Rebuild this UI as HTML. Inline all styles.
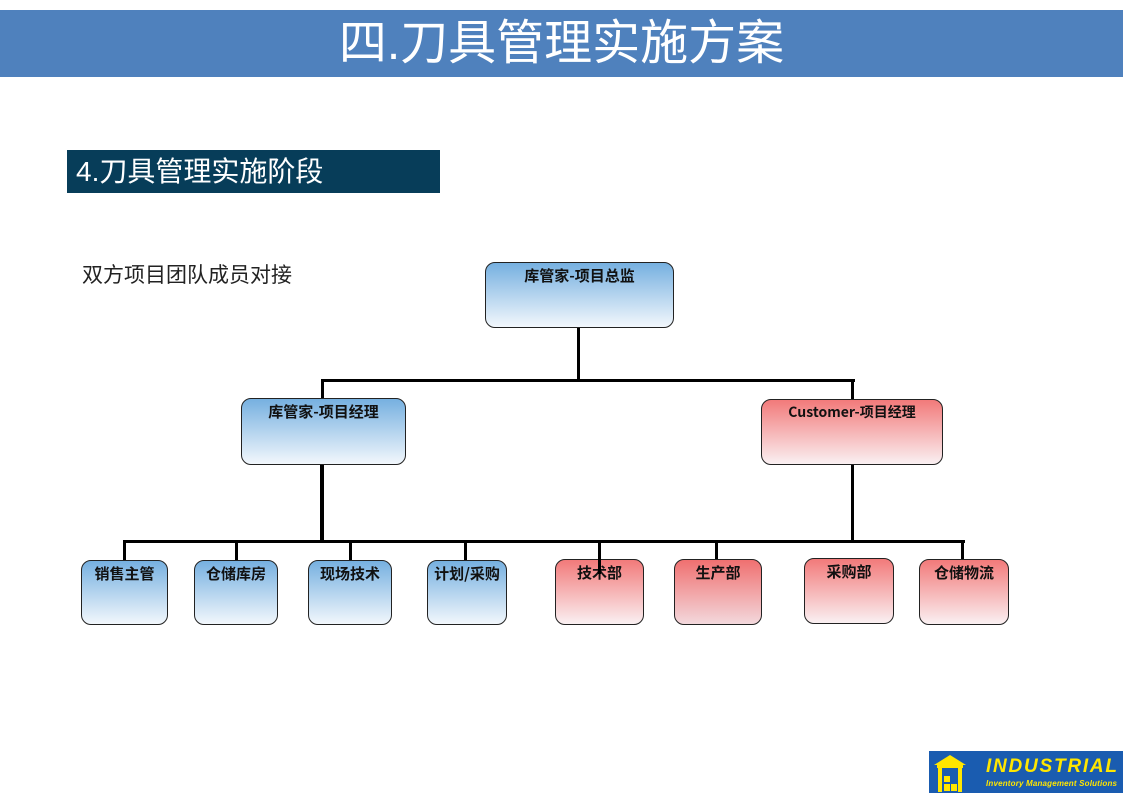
<!DOCTYPE html>
<html><head><meta charset="utf-8"><style>
body{margin:0;width:1123px;height:793px;background:#fff;position:relative;overflow:hidden;font-family:"Liberation Sans","Noto Sans CJK SC",sans-serif}
.band{position:absolute;left:0;top:10px;width:1123px;height:67px;background:#4f81bd;color:#fff;text-align:center;font-size:48px;line-height:67px;letter-spacing:0px}
.sub{position:absolute;left:67px;top:150px;width:373px;height:43px;background:#073d59;color:#fff;font-size:28px;line-height:43px;padding-left:9px;box-sizing:border-box}
.t{position:absolute;left:82px;top:259px;font-size:21px;color:#222}
.b{position:absolute;box-sizing:border-box;border:1px solid #222;border-radius:10px;text-align:center;font-weight:bold;font-size:15px;padding-top:2px;color:#111;font-family:"Noto Sans CJK SC",sans-serif}
.bl{background:linear-gradient(#76b0e0,#f2f7fc)}
.rd{background:linear-gradient(#f27a7a,#faf0f2)}
.l{position:absolute;background:#000}
.logo{position:absolute;left:929px;top:751px;width:194px;height:42px;background:#1a5cb0}
</style></head><body>
<div class="band">四.刀具管理实施方案</div>
<div class="sub">4.刀具管理实施阶段</div>
<div class="t">双方项目团队成员对接</div>

<div class="l" style="left:577px;top:327px;width:3px;height:55px"></div>
<div class="l" style="left:321px;top:379px;width:534px;height:3px"></div>
<div class="l" style="left:321px;top:379px;width:3px;height:20px"></div>
<div class="l" style="left:851px;top:379px;width:3px;height:21px"></div>
<div class="l" style="left:320px;top:464px;width:4px;height:78px"></div>
<div class="l" style="left:851px;top:464px;width:3px;height:78px"></div>
<div class="l" style="left:123px;top:540px;width:842px;height:3px"></div>
<div class="l" style="left:123px;top:540px;width:3px;height:21px"></div>
<div class="l" style="left:235px;top:540px;width:3px;height:21px"></div>
<div class="l" style="left:349px;top:540px;width:3px;height:21px"></div>
<div class="l" style="left:464px;top:540px;width:3px;height:21px"></div>
<div class="l" style="left:598px;top:540px;width:3px;height:34px;z-index:2"></div>
<div class="l" style="left:715px;top:540px;width:3px;height:19px"></div>
<div class="l" style="left:961px;top:540px;width:3px;height:20px"></div>

<div class="b bl" style="left:485px;top:262px;width:189px;height:66px">库管家-项目总监</div>
<div class="b bl" style="left:241px;top:398px;width:165px;height:67px">库管家-项目经理</div>
<div class="b rd" style="left:761px;top:399px;width:182px;height:66px;font-size:14px">Customer-项目经理</div>

<div class="b bl" style="left:81px;top:560px;width:87px;height:65px">销售主管</div>
<div class="b bl" style="left:194px;top:560px;width:84px;height:65px">仓储库房</div>
<div class="b bl" style="left:308px;top:560px;width:84px;height:65px">现场技术</div>
<div class="b bl" style="left:427px;top:560px;width:80px;height:65px">计划/采购</div>
<div class="b rd" style="left:555px;top:559px;width:89px;height:66px">技术部</div>
<div class="b rd" style="left:674px;top:559px;width:88px;height:66px;background:linear-gradient(#f07070,#f3d8dc)">生产部</div>
<div class="b rd" style="left:804px;top:558px;width:90px;height:66px">采购部</div>
<div class="b rd" style="left:919px;top:559px;width:90px;height:66px">仓储物流</div>

<div class="logo">
<svg width="194" height="42" style="position:absolute;left:0;top:0">
<polygon points="5,14 21,4 37,14" fill="#ffe600"/>
<rect x="8" y="14" width="26" height="3" fill="#ffe600"/>
<rect x="9" y="17" width="4" height="24" fill="#ffe600"/>
<rect x="29" y="17" width="4" height="24" fill="#ffe600"/>
<rect x="15" y="25" width="6" height="6" fill="#ffe600"/>
<rect x="15" y="33" width="6" height="7" fill="#ffe600"/>
<rect x="22" y="33" width="6" height="7" fill="#ffe600"/>
<text x="57" y="21" font-family="Liberation Sans" font-weight="bold" font-style="italic" font-size="19" textLength="131" fill="#ffe600">INDUSTRIAL</text>
<text x="57" y="35" font-family="Liberation Sans" font-weight="bold" font-style="italic" font-size="8" textLength="131" fill="#ffe600">Inventory Management Solutions</text>
</svg>
</div>
</body></html>
